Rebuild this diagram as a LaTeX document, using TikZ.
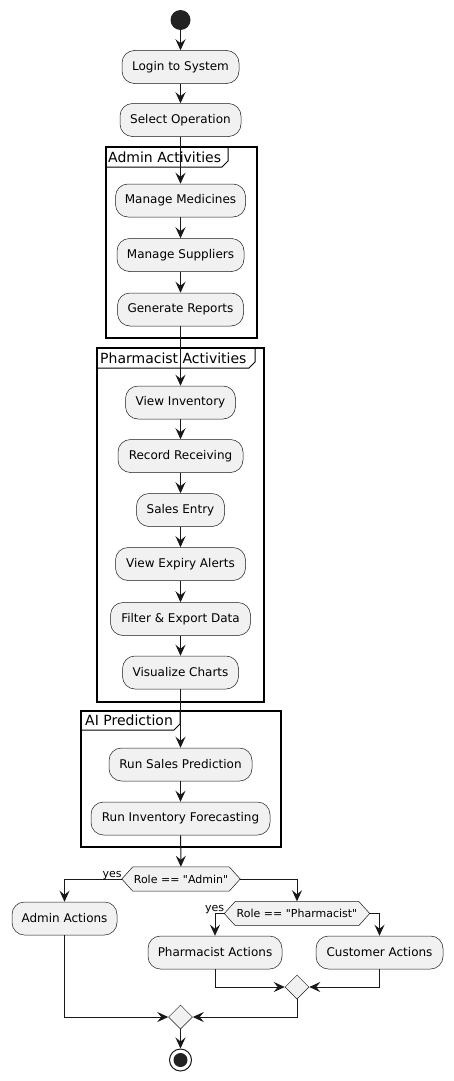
\documentclass[tikz,border=0pt]{standalone}
\usepackage{fontspec}
\setmainfont{DejaVu Sans}[Ligatures=TeXOff]
\usetikzlibrary{arrows.meta,shapes.geometric,backgrounds}
\definecolor{actfill}{HTML}{F1F1F1}
\definecolor{lc}{HTML}{181818}
\definecolor{dark}{HTML}{222222}
\begin{document}
\begin{tikzpicture}[x=1pt,y=-1pt,
  act/.style={draw=lc, line width=0.5pt, fill=actfill, rounded corners=12.5pt, minimum height=33pt, inner sep=0pt, text=black, font=\fontsize{12}{14}\selectfont},
  dec/.style={minimum height=24pt, inner sep=0pt, text=black, font=\fontsize{11}{13}\selectfont},
  decshape/.style={draw=lc, line width=0.5pt, fill=actfill},
  merge/.style={diamond, draw=lc, line width=0.5pt, fill=actfill, minimum width=24pt, minimum height=24pt, inner sep=0pt},
  flow/.style={draw=lc, line width=1pt, -{Stealth[length=11pt,width=10pt,inset=4pt]}},
  frm/.style={draw=black, line width=1.5pt},
  tab/.style={draw=black, line width=1pt},
  ftitle/.style={font=\fontsize{14}{16}\selectfont, anchor=west, inner sep=0pt, text=black},
  yeslab/.style={font=\fontsize{11}{13}\selectfont, inner sep=0pt, anchor=base east, text=black}]
\begin{scope}[on background layer]
\path[fill=white] (0,0) rectangle (453,1081);
\end{scope}
\useasboundingbox (0,0) rectangle (453,1081);

% frames
\draw[frm] (106,147) rectangle (257,338);
\draw[tab] (106,167) -- (222,167) -- (228,161) -- (228,147);
\node[ftitle] (t1) at (108,157) {Admin Activities};

\draw[frm] (97,348) rectangle (264,702);
\draw[tab] (97,368) -- (249,368) -- (255,362) -- (255,348);
\node[ftitle] (t2) at (100,358) {Pharmacist Activities};

\draw[frm] (81,711) rectangle (281,847);
\draw[tab] (81,730) -- (174,730) -- (180,724) -- (180,711);
\node[ftitle] (t3) at (85,720.5) {AI Prediction};

% nodes
\node[circle, fill=dark, minimum size=20pt, inner sep=0pt] (start) at (180.5,20) {};
\node[act, minimum width=117pt] (login) at (180.5,67) {Login to System};
\node[act, minimum width=121pt] (sel) at (180.5,120) {Select Operation};
\node[act, minimum width=130pt] (mm) at (180.5,200.5) {Manage Medicines};
\node[act, minimum width=127pt] (ms) at (180.5,255) {Manage Suppliers};
\node[act, minimum width=126pt] (gr) at (180.5,309.5) {Generate Reports};
\node[act, minimum width=110pt] (vi) at (180.5,402.5) {View Inventory};
\node[act, minimum width=125pt] (rr) at (180.5,456) {Record Receiving};
\node[act, minimum width=88pt] (se) at (180.5,510) {Sales Entry};
\node[act, minimum width=130pt] (vea) at (180.5,564) {View Expiry Alerts};
\node[act, minimum width=140pt] (fed) at (180.5,619) {Filter \& Export Data};
\node[act, minimum width=116pt] (vc) at (180.5,672.5) {Visualize Charts};
\node[act, minimum width=143pt] (rsp) at (180.5,764.5) {Run Sales Prediction};
\node[act, minimum width=179pt] (rif) at (180.5,818.5) {Run Inventory Forecasting};

\node[dec, minimum width=118pt] (d1) at (181,879) {Role == "Admin"};
\node[act, minimum width=105pt] (aa) at (64.5,918.5) {Admin Actions};
\node[dec, minimum width=145pt] (d2) at (297,913.5) {Role == "Pharmacist"};
\node[act, minimum width=134pt] (pa) at (215,952.5) {Pharmacist Actions};
\node[act, minimum width=127pt] (ca) at (379.5,952.5) {Customer Actions};
\node[merge] (m1) at (297,987) {};
\node[merge] (m2) at (180.5,1017) {};
\node[circle, draw=lc, line width=1pt, fill=white, minimum size=22pt, inner sep=0pt] (stop) at (180.5,1060) {};
\node[circle, fill=dark, minimum size=14pt, inner sep=0pt] (stopin) at (stop.center) {};

\begin{scope}[on background layer]
\draw[decshape] (d1.west) -- ([xshift=11pt]d1.north west) -- ([xshift=-11pt]d1.north east) -- (d1.east) -- ([xshift=-11pt]d1.south east) -- ([xshift=11pt]d1.south west) -- cycle;
\draw[decshape] (d2.west) -- ([xshift=11pt]d2.north west) -- ([xshift=-11pt]d2.north east) -- (d2.east) -- ([xshift=-11pt]d2.south east) -- ([xshift=11pt]d2.south west) -- cycle;
\end{scope}

% connectors
\draw[flow] (start) -- (login);
\draw[flow] (login) -- (sel);
\draw[flow] (sel) -- (mm);
\draw[flow] (mm) -- (ms);
\draw[flow] (ms) -- (gr);
\draw[flow] (gr) -- (vi);
\draw[flow] (vi) -- (rr);
\draw[flow] (rr) -- (se);
\draw[flow] (se) -- (vea);
\draw[flow] (vea) -- (fed);
\draw[flow] (fed) -- (vc);
\draw[flow] (vc) -- (rsp);
\draw[flow] (rsp) -- (rif);
\draw[flow] (rif) -- (d1);
\draw[flow] (d1.west) -| (aa.north);
\draw[flow] (d1.east) -| (d2.north);
\draw[flow] (d2.west) -| (pa.north);
\draw[flow] (d2.east) -| (ca.north);
\draw[flow] (pa.south) |- (m1.west);
\draw[flow] (ca.south) |- (m1.east);
\draw[flow] (aa.south) |- (m2.west);
\draw[flow] (m1.south) |- (m2.east);
\draw[flow] (m2) -- (stop);

\node[yeslab] (y1) at ([yshift=2pt]d1.west) {yes};
\node[yeslab] (y2) at ([yshift=2pt]d2.west) {yes};
\end{tikzpicture}
\end{document}
